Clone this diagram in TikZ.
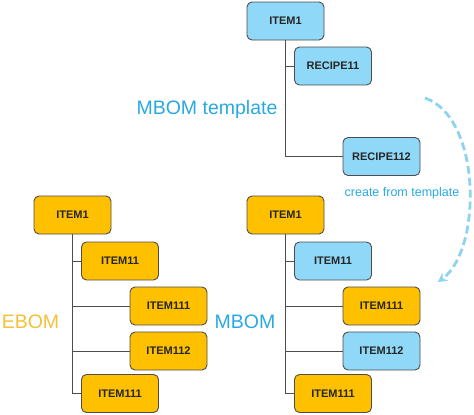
\documentclass[tikz,border=0pt]{standalone}
\usepackage{fontspec}
\setmainfont{Liberation Sans}
\usetikzlibrary{arrows.meta}

\definecolor{bomblue}{HTML}{8FD8F8}
\definecolor{bomorange}{HTML}{FFC000}
\definecolor{bomline}{HTML}{4D4D4D}
\definecolor{mbomtext}{HTML}{29A9E1}
\definecolor{ebomtext}{HTML}{F4C136}
\definecolor{arrowblue}{HTML}{8ED3F0}

\tikzset{
  item/.style = {draw = bomline, line width = 0.9pt, rounded corners = 5pt,
                 minimum width = 77pt, minimum height = 38pt, inner sep = 0pt,
                 text = black!85, font = \fontsize{11}{13}\selectfont\bfseries},
  blueitem/.style = {item, fill = bomblue},
  orangeitem/.style = {item, fill = bomorange},
  tree/.style = {draw = bomline, line width = 0.9pt},
  bomlabel/.style = {font = \fontsize{19.5}{22}\selectfont}
}

\begin{document}
\begin{tikzpicture}[x = 1pt, y = -1pt]
	 \useasboundingbox (0, 0) rectangle (474, 415);

	 % MBOM template
	 \node[blueitem] (t1) at (285.5, 21) {ITEM1};
	 \node[blueitem] (t11) at (333, 66) {RECIPE11};
	 \node[blueitem] (t112) at (381.5, 156.5) {RECIPE112};
	 \draw[tree] (t1.south -| 285, 0) |- (t112.west);
	 \draw[tree] (285, 66) -- (t11.west);
	 \node[bomlabel, text = mbomtext] (tlabel) at (207, 109) {MBOM template};

	 % EBOM
	 \node[orangeitem] (e1) at (72.5, 215) {ITEM1};
	 \node[orangeitem] (e11) at (120, 261) {ITEM11};
	 \node[orangeitem] (e111) at (168.5, 306) {ITEM111};
	 \node[orangeitem] (e112) at (168.5, 351) {ITEM112};
	 \node[orangeitem] (e111b) at (120, 393.5) {ITEM111};
	 \draw[tree] (e1.south -| 72, 0) |- (e111b.west);
	 \foreach \n in {e11, e111, e112}
	 \draw[tree] (72, 0 |- \n.west) -- (\n.west);
	 \node[bomlabel, text = ebomtext] (elabel) at (30.5, 322) {EBOM};

	 % MBOM
	 \node[orangeitem] (m1) at (285.5, 215) {ITEM1};
	 \node[blueitem] (m11) at (333, 261) {ITEM11};
	 \node[orangeitem] (m111) at (381.5, 306) {ITEM111};
	 \node[blueitem] (m112) at (381.5, 351) {ITEM112};
	 \node[orangeitem] (m111b) at (333, 393.5) {ITEM111};
	 \draw[tree] (m1.south -| 285, 0) |- (m111b.west);
	 \foreach \n in {m11, m111, m112}
	 \draw[tree] (285, 0 |- \n.west) -- (\n.west);
	 \node[bomlabel, text = mbomtext] (mlabel) at (245, 322) {MBOM};

	 % create from template
	 \coordinate (cs) at (425, 98);
	 \coordinate (ce) at (438, 282);
	 \draw[arrowblue, line width = 2.8pt, dash pattern = on 8pt off 4pt,
	       -{Stealth[length = 9pt, width = 10pt, inset = 3pt]}]
	   (cs) .. controls (482, 118) and (482, 250) .. (ce);
	 \node[text = mbomtext, font = \fontsize{12.5}{14}\selectfont] (clabel) at (402, 193) {create from template};
\end{tikzpicture}
\end{document}
